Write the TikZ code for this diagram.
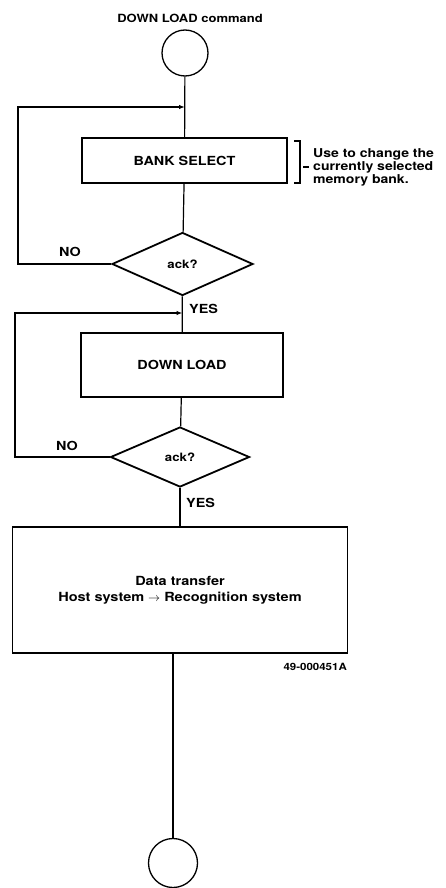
\documentclass[tikz,border=0pt]{standalone}
\usepackage{fontspec}
\setmainfont{TeX Gyre Heros}[FakeStretch=1.15]
\usetikzlibrary{shapes.geometric,arrows.meta}

\begin{document}
\begin{tikzpicture}[x=1pt,y=-1pt,>={Latex[length=6pt,width=4.5pt]},
	blocco/.style={draw,line width=1.8pt,inner sep=0pt,font=\bfseries\fontsize{12.5}{14}\selectfont},
	rombo/.style={draw,diamond,line width=1.8pt,inner sep=0pt,font=\bfseries\fontsize{11.5}{13}\selectfont},
	cerchio/.style={draw,circle,line width=1.3pt,inner sep=0pt},
	linea/.style={line width=1.2pt},
	etichetta/.style={font=\bfseries\fontsize{12.5}{13}\selectfont,inner sep=0pt}]
	\useasboundingbox (0,0) rectangle (445,888);

	% Inizio
	\node[font=\bfseries\fontsize{11.3}{13}\selectfont] (titolo) at (190,18) {DOWN LOAD command};
	\node[cerchio,minimum size=46pt] (inizio) at (185,53) {};

	% Blocchi e decisioni
	\node[blocco,minimum width=205pt,minimum height=45pt] (banca) at (184.5,160.5) {\raisebox{-5pt}{BANK SELECT}};
	\node[rombo,minimum width=141pt,minimum height=63pt] (ack1) at (182.5,264) {ack?};
	\node[blocco,minimum width=202pt,minimum height=64pt] (scarico) at (182,365) {DOWN LOAD};
	\node[rombo,minimum width=139pt,minimum height=60pt] (ack2) at (180,457) {ack?};
	\node[blocco,minimum width=335pt,minimum height=126pt,align=center,
		font=\bfseries\fontsize{12.6}{16}\selectfont] (dati) at (180,590)
		{Data transfer\\Host system $\rightarrow$ Recognition system};
	\node[cerchio,minimum size=49pt] (fine) at (173,863) {};

	% Collegamenti
	\coordinate (giunto1) at (185,107);
	\coordinate (giunto2) at (182.5,313);
	\coordinate (sx1) at (18,107);
	\coordinate (sx2) at (15,313);
	\draw[linea] (inizio) -- (banca);
	\draw[linea] (banca) -- (ack1);
	\draw[linea] (ack1) -- (scarico);
	\draw[linea] (scarico) -- (ack2);
	\draw[linea] (ack2) -- (dati);
	\draw[linea] (dati.south -| fine) -- (fine);
	\draw[linea,->] (ack1.west) -| (sx1) -- (giunto1);
	\draw[linea,->] (ack2.west) -| (sx2) -- (giunto2);

	% Etichette
	\node[etichetta] (no1) at (70,252) {NO};
	\node[etichetta,anchor=west] (si1) at (189,309) {YES};
	\node[etichetta] (no2) at (67,446) {NO};
	\node[etichetta,anchor=west] (si2) at (186,503) {YES};
	\node[font=\bfseries\fontsize{10}{12}\selectfont,anchor=east,inner sep=0pt] (codice) at (347,667) {49-000451A};

	% Nota con parentesi
	\draw[linea] (294,141) -- (300,141) -- (300,183) -- (294,183);
	\draw[linea] (303,167) -- (309,167);
	\node[anchor=west,align=left,inner sep=0pt,font=\bfseries\fontsize{12.2}{13}\selectfont] (nota) at (313,167)
		{Use to change the\\currently selected\\memory bank.};

\end{tikzpicture}
\end{document}
